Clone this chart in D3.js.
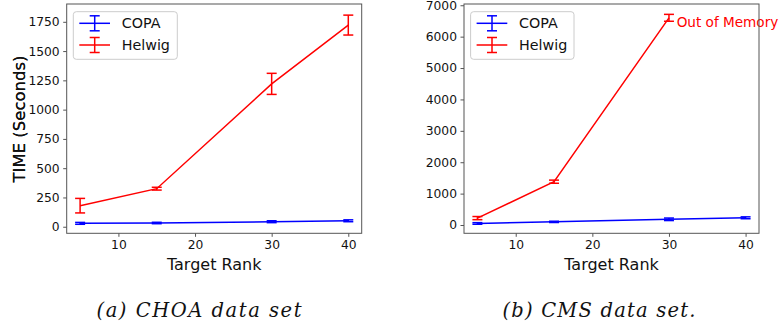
<!DOCTYPE html>
<html>
<head>
<meta charset="utf-8">
<script src="https://cdn.jsdelivr.net/npm/d3@7"></script>
<style>
  body { margin: 0; background: #fff; }
  text { font-family: "DejaVu Sans", sans-serif; }
</style>
</head>
<body>
<svg class="chart"></svg>
<script>
// DATA /////////////////////////////////////////
const ranks = [5, 15, 30, 40];
const xTicks = [10, 20, 30, 40];

const choaCopa = [29, 32, 43, 51];
const choaCopaErr = [8, 6, 8, 8];
const choaHelwig = [180, 325, 1220, 1722];
const choaHelwigErr = [62, 12, 90, 85];
const choaYTicks = [0, 250, 500, 750, 1000, 1250, 1500, 1750];

const cmsCopa = [50, 100, 182, 230];
const cmsCopaErr = [25, 20, 40, 30];
const cmsHelwig = [220, 1380, 6600];
const cmsHelwigErr = [50, 50, 110];
const cmsYTicks = [0, 1000, 2000, 3000, 4000, 5000, 6000, 7000];

const seriesNames = ["COPA", "Helwig"];
const captions = ["(a) CHOA data set", "(b) CMS data set."];
const oomLabel = "Out of Memory";

// SETUP ////////////////////////////////////////
const W = 779, H = 328;
const svg = d3.select(".chart").attr("width", W).attr("height", H);
const colors = { COPA: "#0000ff", Helwig: "#ff0000" };
const spine = "#555";

const zip = (vals, errs) => vals.map((v, i) => ({ x: ranks[i], y: v, e: errs[i] }));

const panels = [
  {
    left: 66.7, top: 4, width: 295, height: 229.3,
    yDomain: [-56, 1902], yTicks: choaYTicks,
    series: [
      { name: "COPA", pts: zip(choaCopa, choaCopaErr) },
      { name: "Helwig", pts: zip(choaHelwig, choaHelwigErr) },
    ],
    legendW: 104,
    caption: captions[0], capX: 199, capW: 205,
  },
  {
    left: 464, top: 4, width: 295, height: 229.3,
    yDomain: [-264, 7040], yTicks: cmsYTicks,
    series: [
      { name: "COPA", pts: zip(cmsCopa, cmsCopaErr) },
      { name: "Helwig", pts: zip(cmsHelwig, cmsHelwigErr) },
    ],
    legendW: 103.4,
    oom: { x: 31, y: 6300 },
    caption: captions[1], capX: 599, capW: 193,
  },
];

// DRAW /////////////////////////////////////////
panels.forEach((p) => {
  const g = svg.append("g").attr("transform", `translate(${p.left}, ${p.top})`);
  const x = d3.scaleLinear().domain([3.25, 41.75]).range([0, p.width]);
  const y = d3.scaleLinear().domain(p.yDomain).range([p.height, 0]);

  // axes
  const xAxis = g.append("g")
    .attr("transform", `translate(0, ${p.height})`)
    .call(d3.axisBottom(x).tickValues(xTicks).tickFormat(d3.format("d")).tickSize(3.5).tickPadding(3.5));
  const yAxis = g.append("g")
    .call(d3.axisLeft(y).tickValues(p.yTicks).tickFormat(d3.format("d")).tickSize(3.5).tickPadding(3.5));
  [xAxis, yAxis].forEach((a) => {
    a.select(".domain").remove();
    a.selectAll(".tick line").attr("stroke", spine).attr("stroke-width", 1);
    a.selectAll(".tick text").attr("fill", "#111").style("font-size", "12.3px")
      .style("font-family", "DejaVu Sans");
  });

  // series
  const line = d3.line().x((d) => x(d.x)).y((d) => y(d.y));
  p.series.forEach((s) => {
    const c = colors[s.name];
    g.append("path").datum(s.pts)
      .attr("d", line).attr("fill", "none")
      .attr("stroke", c).attr("stroke-width", 1.5);
    const eg = g.selectAll(null).data(s.pts).join("g").attr("stroke", c).attr("stroke-width", 1.5);
    eg.append("line")
      .attr("x1", (d) => x(d.x)).attr("x2", (d) => x(d.x))
      .attr("y1", (d) => y(d.y - d.e)).attr("y2", (d) => y(d.y + d.e));
    [-1, 1].forEach((sgn) => {
      eg.append("line")
        .attr("x1", (d) => x(d.x) - 5).attr("x2", (d) => x(d.x) + 5)
        .attr("y1", (d) => y(d.y + sgn * d.e)).attr("y2", (d) => y(d.y + sgn * d.e));
    });
  });

  if (p.oom) {
    g.append("text")
      .attr("x", x(p.oom.x)).attr("y", y(p.oom.y))
      .attr("fill", "#ff0000").style("font-size", "13.6px")
      .text(oomLabel);
  }

  // frame
  g.append("rect")
    .attr("width", p.width).attr("height", p.height)
    .attr("fill", "none").attr("stroke", spine).attr("stroke-width", 1);

  // legend
  const lg = g.append("g").attr("transform", "translate(6.6, 7.7)");
  lg.append("rect")
    .attr("width", p.legendW).attr("height", 47.6).attr("rx", 3)
    .attr("fill", "#fff").attr("fill-opacity", 0.8)
    .attr("stroke", "#ccc").attr("stroke-width", 1);
  seriesNames.forEach((name, i) => {
    const cy = 11.6 + i * 21.7;
    const item = lg.append("g").attr("stroke", colors[name]).attr("stroke-width", 1.5);
    item.append("line").attr("x1", 6).attr("x2", 36.7).attr("y1", cy).attr("y2", cy);
    item.append("line").attr("x1", 21.4).attr("x2", 21.4).attr("y1", cy - 7.5).attr("y2", cy + 7.5);
    item.append("line").attr("x1", 16.4).attr("x2", 26.4).attr("y1", cy - 7.5).attr("y2", cy - 7.5);
    item.append("line").attr("x1", 16.4).attr("x2", 26.4).attr("y1", cy + 7.5).attr("y2", cy + 7.5);
    lg.append("text")
      .attr("x", 48.4).attr("y", cy).attr("dy", "0.35em")
      .style("font-size", "14.3px").attr("fill", "#111")
      .text(name);
  });

  // axis labels
  g.append("text")
    .attr("x", p.width / 2).attr("y", 266)
    .attr("text-anchor", "middle").style("font-size", "16px").attr("fill", "#111")
    .text("Target Rank");
  g.append("text")
    .attr("transform", `translate(${Math.round(-p.left + 25)}, ${Math.round(p.height / 2)}) rotate(-90)`)
    .attr("text-anchor", "middle").style("font-size", "16.5px").attr("fill", "#111")
    .text("TIME (Seconds)");

  // caption
  svg.append("text")
    .attr("x", p.capX).attr("y", 316.7)
    .attr("text-anchor", "middle")
    .style("font-family", "'DejaVu Serif', serif")
    .style("font-style", "italic").style("font-size", "19.5px")
    .attr("fill", "#111")
    .attr("textLength", p.capW).attr("lengthAdjust", "spacing")
    .text(p.caption);
});
</script>
</body>
</html>
